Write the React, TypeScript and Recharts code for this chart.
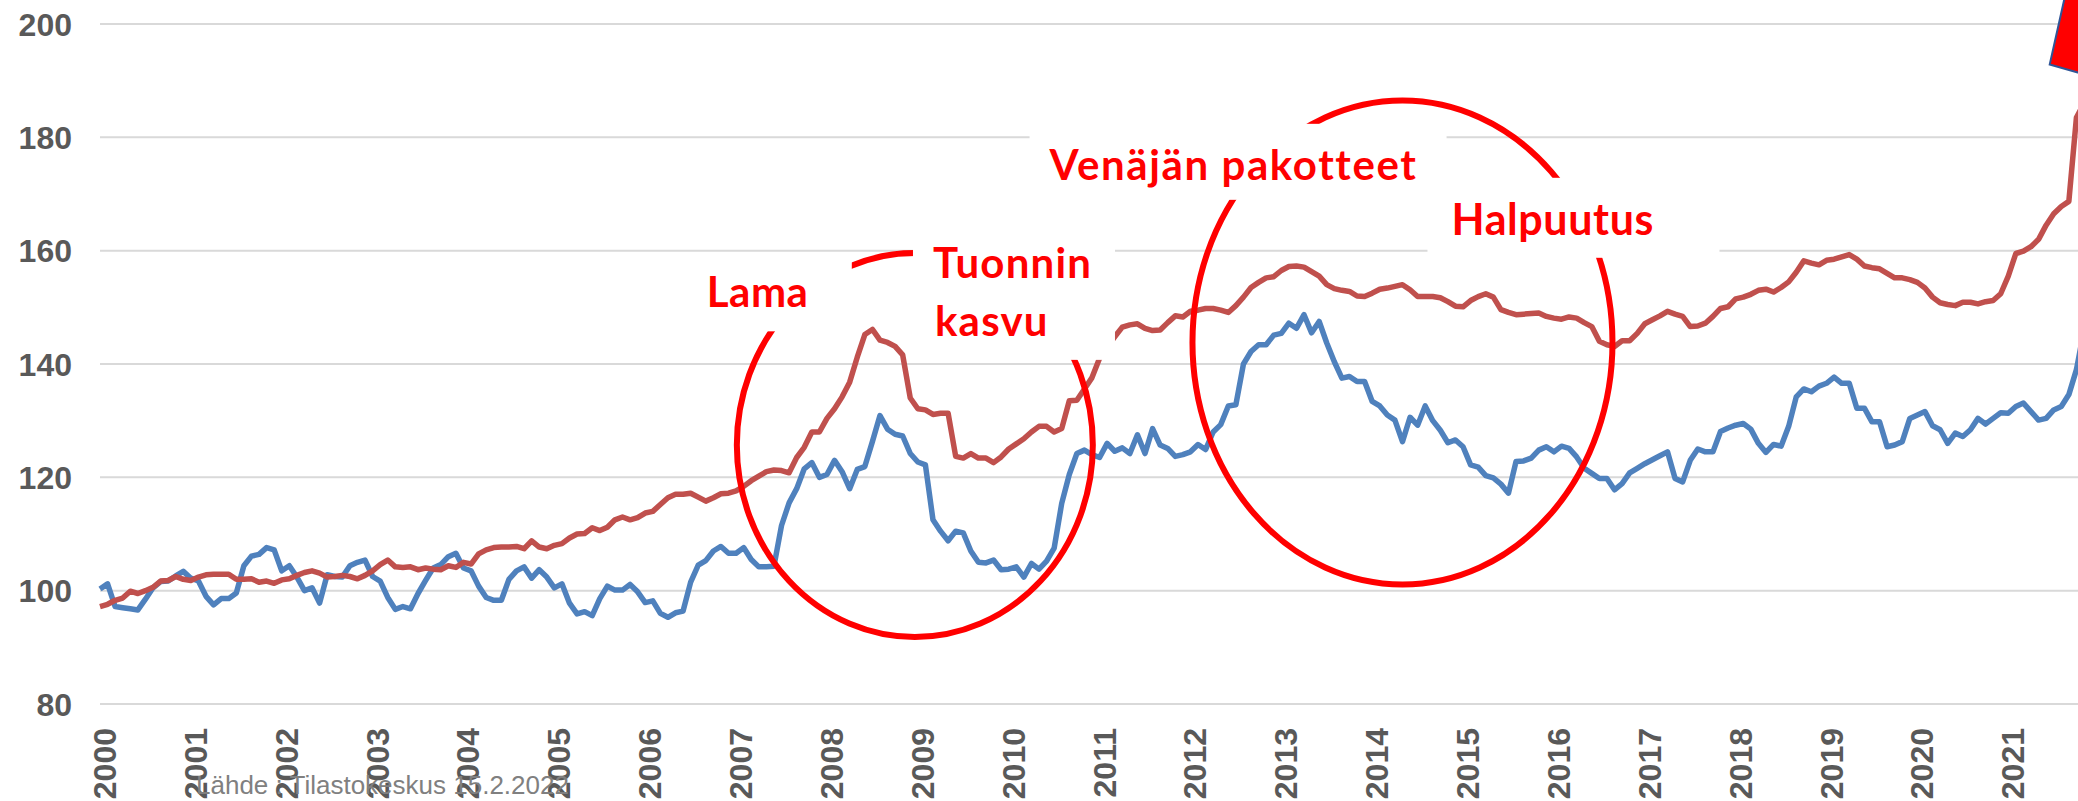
import { LineChart, Line, XAxis, YAxis, CartesianGrid, ReferenceDot } from 'recharts';

// Monthly index series, 1/2000 – 11/2021 (cropped at the right edge like the source slide)
const years = [
  2000, 2001, 2002, 2003, 2004, 2005, 2006, 2007, 2008, 2009, 2010,
  2011, 2012, 2013, 2014, 2015, 2016, 2017, 2018, 2019, 2020, 2021,
];

const blueSeries = [
  100.3, 101.2, 97.2, 97.0, 96.8, 96.6, 98.5, 100.5, 101.6, 101.7, 102.6, 103.4,
  102.2, 101.7, 99.0, 97.5, 98.6, 98.6, 99.6, 104.4, 106.1, 106.4, 107.6, 107.2,
  103.5, 104.4, 102.4, 100.0, 100.5, 97.8, 102.8, 102.5, 102.4, 104.4, 105.0, 105.4,
  102.5, 101.7, 98.8, 96.7, 97.2, 96.8, 99.5, 101.8, 104.0, 104.6, 106.0, 106.6,
  104.0, 103.5, 100.8, 98.8, 98.3, 98.3, 102.0, 103.5, 104.2, 102.2, 103.7, 102.4,
  100.5, 101.2, 97.8, 95.9, 96.3, 95.6, 98.6, 100.8, 100.1, 100.1, 101.1, 99.8,
  97.9, 98.2, 96.0, 95.3, 96.1, 96.4, 101.5, 104.5, 105.3, 107.0, 107.8, 106.6,
  106.6, 107.6, 105.5, 104.2, 104.2, 104.3, 111.5, 115.5, 118.0, 121.5, 122.6, 120.0,
  120.5, 123.0, 121.0, 118.0, 121.4, 121.9, 126.3, 130.9, 128.5, 127.6, 127.3, 124.2,
  122.7, 122.2, 112.5, 110.5, 108.8, 110.5, 110.2, 107.0, 105.0, 104.9, 105.4, 103.7,
  103.8, 104.2, 102.4, 104.8, 103.8, 105.2, 107.5, 115.4, 120.5, 124.2, 124.8, 124.0,
  123.5, 126.0, 124.6, 125.2, 124.2, 127.5, 124.2, 128.6, 125.7, 125.1, 123.7, 124.0,
  124.5, 125.8, 124.9, 128.0, 129.3, 132.6, 132.8, 140.0, 142.2, 143.4, 143.4, 145.1,
  145.4, 147.2, 146.3, 148.7, 145.5, 147.5, 143.7, 140.4, 137.5, 137.8, 136.9, 136.9,
  133.4, 132.6, 131.0, 130.1, 126.3, 130.6, 129.2, 132.6, 130.0, 128.3, 126.1, 126.6,
  125.4, 122.2, 121.8, 120.3, 119.9, 118.8, 117.2, 122.8, 122.9, 123.4, 124.8, 125.4,
  124.5, 125.5, 125.1, 123.6, 121.6, 120.7, 119.8, 119.8, 117.8, 118.9, 120.8, 121.6,
  122.4, 123.1, 123.8, 124.5, 119.8, 119.2, 123.0, 125.0, 124.5, 124.5, 128.1, 128.7,
  129.2, 129.5, 128.5, 126.0, 124.4, 125.8, 125.5, 129.0, 134.2, 135.6, 135.1, 136.1,
  136.6, 137.7, 136.6, 136.6, 132.2, 132.2, 129.8, 129.8, 125.4, 125.7, 126.3, 130.4,
  131.0, 131.6, 129.1, 128.4, 126.0, 127.8, 127.2, 128.4, 130.4, 129.4, 130.4, 131.4,
  131.3, 132.5, 133.1, 131.6, 130.1, 130.4, 131.9, 132.5, 134.6, 139.0, 146.0,
];

const redSeries = [
  97.2, 97.6, 98.3, 98.7, 99.9, 99.5, 100.0, 100.6, 101.7, 101.8, 102.5, 102.0,
  101.8, 102.4, 102.8, 102.9, 102.9, 102.9, 102.0, 102.0, 102.1, 101.5, 101.7, 101.3,
  101.9, 102.1, 102.7, 103.2, 103.5, 103.1, 102.4, 102.5, 102.7, 102.5, 102.1, 102.7,
  103.5, 104.6, 105.4, 104.2, 104.1, 104.2, 103.7, 104.0, 103.8, 103.7, 104.4, 104.1,
  105.0, 104.7, 106.5, 107.2, 107.6, 107.7, 107.7, 107.8, 107.4, 108.8, 107.7, 107.4,
  108.0, 108.3, 109.3, 110.0, 110.1, 111.1, 110.6, 111.2, 112.5, 113.0, 112.5, 112.9,
  113.7, 114.0, 115.2, 116.4, 117.0, 117.0, 117.2, 116.5, 115.8, 116.4, 117.1, 117.2,
  117.6, 118.4, 119.4, 120.2, 121.0, 121.3, 121.2, 120.8, 123.5, 125.3, 128.0, 128.0,
  130.4, 132.1, 134.2, 136.8, 141.2, 145.2, 146.1, 144.2, 143.8, 143.1, 141.6, 134.0,
  132.1, 131.9, 131.1, 131.3, 131.3, 123.7, 123.4, 124.2, 123.4, 123.4, 122.6, 123.6,
  125.0, 125.9, 126.8, 128.0, 129.0, 129.0, 128.0, 128.6, 133.5, 133.6, 135.6, 137.6,
  141.0, 143.0, 144.8, 146.5, 146.9, 147.1, 146.3, 145.9, 146.0, 147.3, 148.5, 148.3,
  149.3, 149.5, 149.8, 149.8, 149.5, 149.1, 150.3, 151.8, 153.5, 154.4, 155.2, 155.4,
  156.5, 157.2, 157.3, 157.1, 156.3, 155.5, 154.0, 153.3, 153.0, 152.8, 152.0, 151.9,
  152.5, 153.2, 153.4, 153.7, 154.0, 153.1, 151.9, 151.9, 151.9, 151.7, 151.0, 150.2,
  150.1, 151.2, 151.9, 152.4, 151.8, 149.6, 149.1, 148.7, 148.8, 148.9, 149.0, 148.4,
  148.1, 147.9, 148.3, 148.1, 147.3, 146.6, 144.0, 143.4, 143.1, 144.1, 144.1, 145.4,
  147.1, 147.8, 148.5, 149.3, 148.8, 148.4, 146.6, 146.7, 147.2, 148.4, 149.8, 150.1,
  151.5, 151.8, 152.3, 153.0, 153.2, 152.7, 153.5, 154.5, 156.2, 158.2, 157.8, 157.5,
  158.3, 158.5, 158.9, 159.3, 158.5, 157.3, 157.0, 156.8, 156.0, 155.2, 155.2, 154.9,
  154.4, 153.4, 151.8, 150.8, 150.5, 150.3, 150.9, 150.9, 150.6, 151.0, 151.2, 152.4,
  155.5, 159.5, 159.9, 160.7, 162.0, 164.5, 166.5, 167.8, 168.7, 183.5, 186.0,
];

const yTicks = [80, 100, 120, 140, 160, 180, 200];

const months: string[] = [];
years.forEach((yr) => {
  for (let m = 1; m <= 12; m++) months.push(`${yr}-${String(m).padStart(2, '0')}`);
});

const data = blueSeries.map((v, i) => ({
  month: months[i],
  blue: v,
  red: redSeries[i],
}));

// annotation texts (anchored in data space, boxes hide whatever is under them)
const notes = [
  { at: '2006-09', value: 150, lines: ['Lama'], box: [-9, -46, 155, 70], dx: 1, size: 42, ls: 0.5 },
  { at: '2009-03', value: 155.2, lines: ['Tuonnin', 'kasvu'], box: [-20, -38, 202, 120], dx: 0, size: 42, ls: 1.2 },
  { at: '2010-06', value: 172.5, lines: ['Venäjän pakotteet'], box: [-17, -56, 417, 76], dx: 3, size: 42, ls: 1.6 },
  { at: '2014-12', value: 162.8, lines: ['Halpuutus'], box: [-28, -57, 292, 80], dx: -4, size: 43, ls: 0.6 },
];

const rings = [
  { at: '2009-01', value: 125.7, rx: 178, ry: 192, dx: -3 },
  { at: '2014-05', value: 143.8, rx: 210, ry: 242, dx: 0 },
];

const axisGray = '#595959';

const YTick = ({ x, y, payload }: any) => (
  <text
    x={x - 28}
    y={y + 11.5}
    textAnchor="end"
    fill={axisGray}
    fontSize={32}
    fontWeight={700}
    fontFamily="'Liberation Sans', Arial, sans-serif"
  >
    {payload.value}
  </text>
);

const XTick = ({ x, y, payload }: any) => {
  const bx = x + 16;
  const by = y + 24;
  return (
    <text
      x={bx}
      y={by}
      transform={`rotate(-90 ${bx} ${by})`}
      textAnchor="end"
      fill={axisGray}
      fontSize={32}
      fontWeight={700}
      fontFamily="'Liberation Sans', Arial, sans-serif"
    >
      {String(payload.value).slice(0, 4)}
    </text>
  );
};

export default function App() {
  return (
    <div
      style={{
        position: 'absolute',
        left: 0,
        top: 0,
        width: 2078,
        height: 801,
        overflow: 'hidden',
        background: '#fff',
      }}
    >
      <LineChart width={2084} height={801} data={data} margin={{ top: 24, right: 0, bottom: 0, left: 0 }}>
        <CartesianGrid vertical={false} stroke="#d9d9d9" strokeWidth={2} />
        <XAxis
          dataKey="month"
          interval={11}
          height={97}
          axisLine={false}
          tickLine={false}
          tickSize={0}
          tickMargin={0}
          tick={<XTick />}
        />
        <YAxis
          domain={[80, 200]}
          ticks={yTicks}
          width={100}
          axisLine={false}
          tickLine={false}
          tickSize={0}
          tickMargin={0}
          tick={<YTick />}
        />
        <Line
          type="linear"
          dataKey="blue"
          stroke="#4F81BD"
          strokeWidth={5.5}
          strokeLinejoin="round"
          dot={false}
          isAnimationActive={false}
        />
        <Line
          type="linear"
          dataKey="red"
          stroke="#C0504D"
          strokeWidth={5.5}
          strokeLinejoin="round"
          dot={false}
          isAnimationActive={false}
        />
        {rings.map((r) => (
          <ReferenceDot
            key={r.at}
            x={r.at}
            y={r.value}
            r={1}
            shape={(p: any) => (
              <ellipse cx={p.cx + r.dx} cy={p.cy} rx={r.rx} ry={r.ry} fill="none" stroke="#FF0000" strokeWidth={6} />
            )}
          />
        ))}
        {notes.map((n) => (
          <ReferenceDot
            key={n.at}
            x={n.at}
            y={n.value}
            r={1}
            shape={(p: any) => (
              <g>
                <rect x={p.cx + n.box[0]} y={p.cy + n.box[1]} width={n.box[2]} height={n.box[3]} fill="#ffffff" />
                {n.lines.map((t, i) => (
                  <text
                    key={t}
                    x={p.cx + n.dx + (i > 0 ? 2 : 0)}
                    y={p.cy + i * 58}
                    fill="#FF0000"
                    fontSize={n.size}
                    fontWeight={700}
                    letterSpacing={n.ls}
                    fontFamily="Lato, 'Open Sans', sans-serif"
                  >
                    {t}
                  </text>
                ))}
              </g>
            )}
          />
        ))}
        <ReferenceDot
          x="2021-07"
          y={200}
          r={1}
          shape={(p: any) => (
            <polygon
              points={[
                [p.cx + 14, p.cy - 40],
                [p.cx - 4, p.cy + 40.5],
                [p.cx + 24, p.cy + 48.5],
                [p.cx + 60, p.cy + 56],
                [p.cx + 60, p.cy - 40],
              ]
                .map((q) => q.join(','))
                .join(' ')}
              fill="#FF0000"
              stroke="#2F5597"
              strokeWidth={2}
            />
          )}
        />
      </LineChart>
      <svg width={2078} height={801} style={{ position: 'absolute', left: 0, top: 0, pointerEvents: 'none' }}>
        <text x={196} y={794} fill="#808080" fontSize={26} fontFamily="'Liberation Sans', Arial, sans-serif">
          Lähde : Tilastokeskus 15.2.2022
        </text>
      </svg>
    </div>
  );
}
